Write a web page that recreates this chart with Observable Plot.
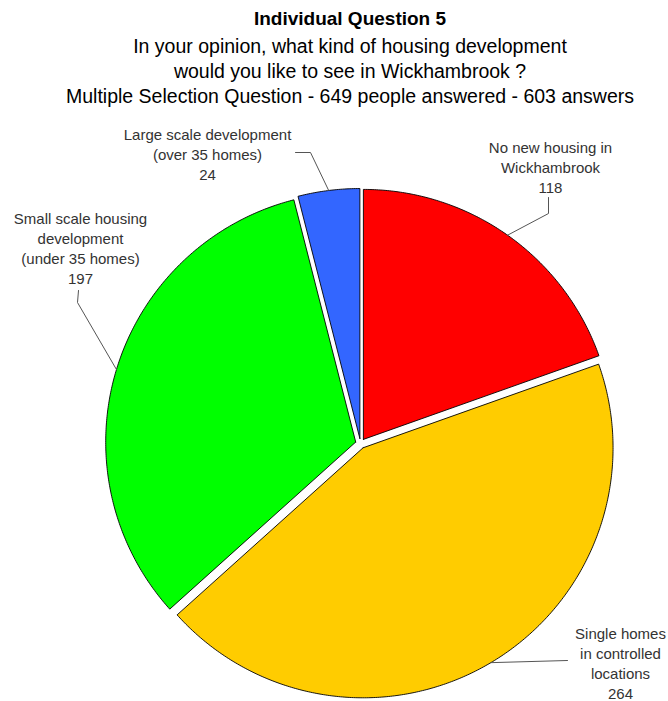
<!DOCTYPE html>
<html><head><meta charset="utf-8">
<script src="https://cdn.jsdelivr.net/npm/d3@7"></script>
<script src="https://cdn.jsdelivr.net/npm/@observablehq/plot@0.6"></script>
<style>
body{margin:0;background:#fff;font-family:"Liberation Sans",Arial,sans-serif;}
#head{width:636px;padding-left:32px;padding-top:7px;height:103px;text-align:center;color:#000;}
.t1{font-weight:bold;font-size:19px;line-height:24px;}
.t2{font-size:19.5px;line-height:25px;white-space:nowrap;}
.first{margin-top:3px;}
#chart svg{display:block;}
</style></head><body>
<div id="head">
<div class="t1">Individual Question 5</div>
<div class="t2 first">In your opinion, what kind of housing development</div>
<div class="t2">would you like to see in Wickhambrook ?</div>
<div class="t2">Multiple Selection Question - 649 people answered - 603 answers</div>
</div>
<div id="chart"></div>
<script>
// ---- data ----
const categories = [
  "No new housing in Wickhambrook",
  "Single homes in controlled locations",
  "Small scale housing development (under 35 homes)",
  "Large scale development (over 35 homes)"
];
const labelText = [
  "No new housing in\nWickhambrook",
  "Single homes\nin controlled\nlocations",
  "Small scale housing\ndevelopment\n(under 35 homes)",
  "Large scale development\n(over 35 homes)"
];
const counts = [118, 264, 197, 24];
const colors = ["#FF0000", "#FFCC00", "#00FF00", "#3366FF"];

// ---- layout (units of pie radius) ----
const R = 250;            // px per unit
const W = 668, H = 591;
const cx = 360, cy = 333; // pie centre in svg px
const explode = 0.02;
const labelPos = [[0.76, 1.108], [1.04, -0.876], [-1.12, 0.784], [-0.612, 1.16]];
const leaderBends = [
  [[0.752, 0.92], [0.752, 0.984]],
  [[0.828, -0.868]],
  [[-1.132, 0.564], [-1.128, 0.612]],
  [[-0.2, 1.164], [-0.26, 1.164]]
];

const arcs = d3.pie().sort(null).value(d => d)(counts);
const slicePts = [], leaderPts = [], labels = [];
arcs.forEach((a, i) => {
  const name = categories[i];
  const mid = (a.startAngle + a.endAngle) / 2;
  const ox = explode * Math.sin(mid), oy = explode * Math.cos(mid);
  slicePts.push({name, x: ox, y: oy});
  const n = Math.max(2, Math.ceil((a.endAngle - a.startAngle) / (Math.PI / 360)));
  for (let k = 0; k <= n; k++) {
    const t = a.startAngle + (a.endAngle - a.startAngle) * k / n;
    slicePts.push({name, x: ox + Math.sin(t), y: oy + Math.cos(t)});
  }
  slicePts.push({name, x: ox, y: oy});
  leaderPts.push({name, x: ox + Math.sin(mid), y: oy + Math.cos(mid)});
  leaderBends[i].forEach(p => leaderPts.push({name, x: p[0], y: p[1]}));
  labels.push({name, x: labelPos[i][0], y: labelPos[i][1], text: labelText[i] + "\n" + counts[i]});
});

const chart = Plot.plot({
  width: W, height: H,
  marginTop: 0, marginRight: 0, marginBottom: 0, marginLeft: 0,
  style: {fontFamily: "'Liberation Sans', Arial, sans-serif", background: "#fff"},
  x: {domain: [-cx / R, (W - cx) / R], axis: null},
  y: {domain: [-(H - cy) / R, cy / R], axis: null},
  color: {domain: categories, range: colors},
  marks: [
    Plot.line(slicePts, {x: "x", y: "y", z: "name", fill: "name", stroke: "black", strokeWidth: 0.9, curve: "linear"}),
    Plot.line(leaderPts, {x: "x", y: "y", z: "name", stroke: "#555", strokeWidth: 1}),
    Plot.text(labels, {x: "x", y: "y", text: "text", fontSize: 15, lineHeight: 1.33, fill: "#333", textAnchor: "middle", lineAnchor: "middle"})
  ]
});
document.getElementById("chart").appendChild(chart);
</script>
</body></html>
